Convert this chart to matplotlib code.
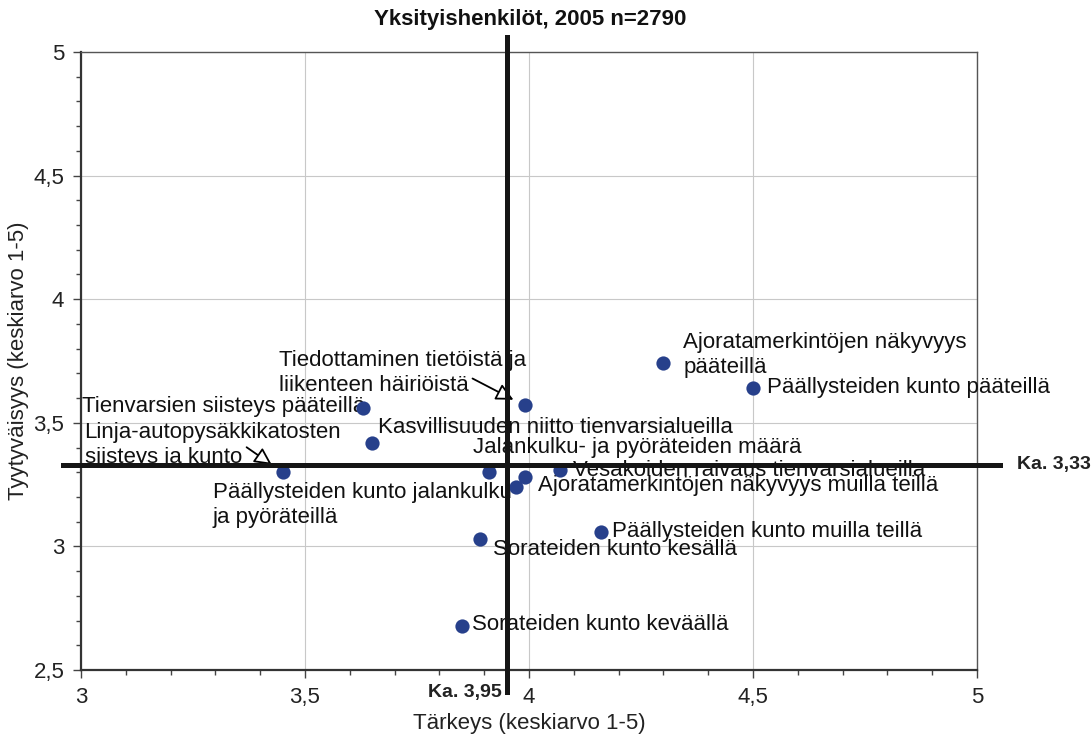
import matplotlib
matplotlib.use("Agg")
import matplotlib.pyplot as plt
from matplotlib.ticker import MultipleLocator, FuncFormatter

plt.rcParams['font.family'] = ['Liberation Sans', 'DejaVu Sans']

# Data: importance (x) and satisfaction (y), mean 1-5
labels = [
    "Ajoratamerkintöjen näkyvyys\npääteillä",
    "Päällysteiden kunto pääteillä",
    "Tiedottaminen tietöistä ja\nliikenteen häiriöistä",
    "Tienvarsien siisteys pääteillä",
    "Kasvillisuuden niitto tienvarsialueilla",
    "Linja-autopysäkkikatosten\nsiisteys ja kunto",
    "Päällysteiden kunto jalankulku-\nja pyöräteillä",
    "Jalankulku- ja pyöräteiden määrä",
    "Vesakoiden raivaus tienvarsialueilla",
    "Ajoratamerkintöjen näkyvyys muilla teillä",
    "Päällysteiden kunto muilla teillä",
    "Sorateiden kunto kesällä",
    "Sorateiden kunto keväällä",
]
tarkeys = [4.30, 4.50, 3.99, 3.63, 3.65, 3.45, 3.97, 3.91, 4.07, 3.99, 4.16, 3.89, 3.85]
tyytyvaisyys = [3.74, 3.64, 3.57, 3.56, 3.42, 3.30, 3.24, 3.30, 3.31, 3.28, 3.06, 3.03, 2.68]
mean_x = 3.95
mean_y = 3.33

# label placement (offset in pixels from the dot, alignment)
label_pos = [
    (20, 8, 'left'),
    (14, 1, 'left'),
    (-246, 32, 'left'),
    (2, 1, 'right'),
    (6, 15, 'left'),
    (-198, 27, 'left'),
    (-303, -18, 'left'),
    (-16, 25, 'left'),
    (13, -1, 'left'),
    (13, -8, 'left'),
    (11, 0, 'left'),
    (13, -11, 'left'),
    (10, 1, 'left'),
]
# leader arrows: index, start offset (px), shrink at tip (pt)
arrows = [(2, -52, 27, 9), (5, -36, 25, 9.5)]

fig = plt.figure(figsize=(10.92, 7.35), dpi=100)
ax = fig.add_axes([81/1092, 65/735, 896/1092, 618/735])

ax.set_xlim(3, 5)
ax.set_ylim(2.5, 5)
ax.xaxis.set_major_locator(MultipleLocator(0.5))
ax.xaxis.set_minor_locator(MultipleLocator(0.1))
ax.yaxis.set_major_locator(MultipleLocator(0.5))
ax.yaxis.set_minor_locator(MultipleLocator(0.1))
fmt = FuncFormatter(lambda v, p: f"{v:g}".replace('.', ','))
ax.xaxis.set_major_formatter(fmt)
ax.yaxis.set_major_formatter(fmt)
ax.tick_params(which='major', direction='out', length=6, width=1, colors='#444444',
               labelsize=16, labelcolor='#222222', pad=6)
ax.tick_params(which='minor', direction='out', length=3.5, width=1, colors='#444444')
ax.grid(True, which='major', color='#c8c8c8', linewidth=0.8)
ax.set_axisbelow(True)
for side in ['left', 'bottom']:
    ax.spines[side].set_linewidth(1.6)
    ax.spines[side].set_color('#333333')
for side in ['top', 'right']:
    ax.spines[side].set_linewidth(1.0)
    ax.spines[side].set_color('#555555')

ax.scatter(tarkeys, tyytyvaisyys, s=105, color='#27408b', zorder=4, linewidths=0)

for i, lab in enumerate(labels):
    dx, dy, ha = label_pos[i]
    ax.annotate(lab, xy=(tarkeys[i], tyytyvaisyys[i]), xytext=(dx, dy),
                textcoords='offset pixels', ha=ha, va='center', fontsize=16,
                color='#111111', linespacing=1.25, zorder=3, annotation_clip=False)

for i, sx, sy, sb in arrows:
    ax.annotate("", xy=(tarkeys[i], tyytyvaisyys[i]), xytext=(sx, sy),
                textcoords='offset pixels',
                arrowprops=dict(arrowstyle='-|>', shrinkA=0, shrinkB=sb,
                                mutation_scale=26, fc='white', ec='black', lw=1.3),
                zorder=5)

# mean lines
ax.axvline(mean_x, ymin=-0.036, ymax=1.024, color='#151515', lw=3.6, clip_on=False, zorder=6)
ax.axhline(mean_y, xmin=-0.02, xmax=1.026, color='#151515', lw=3.6, clip_on=False, zorder=6)
ka = lambda v: "Ka. " + f"{v:.2f}".replace('.', ',')
ax.annotate(ka(mean_x), xy=(mean_x, 2.5), xytext=(-5, -22), textcoords='offset pixels',
            ha='right', va='center', fontsize=14, fontweight='bold', color='#222222',
            annotation_clip=False)
ax.annotate(ka(mean_y), xy=(5, mean_y), xytext=(40, 0), textcoords='offset pixels',
            ha='left', va='center', fontsize=14, fontweight='bold', color='#222222',
            annotation_clip=False)

fig.text(530/1092, 1 - 19/735, "Yksityishenkilöt, 2005 n=2790", ha='center', va='center',
         fontsize=16, fontweight='bold', color='#111111')
fig.text(529/1092, 1 - 724/735, "Tärkeys (keskiarvo 1-5)", ha='center', va='center',
         fontsize=16, color='#222222')
fig.text(19/1092, 1 - 361/735, "Tyytyväisyys (keskiarvo 1-5)", ha='center', va='center',
         rotation=90, fontsize=16, color='#222222')

fig.savefig("out.png", dpi=100)
